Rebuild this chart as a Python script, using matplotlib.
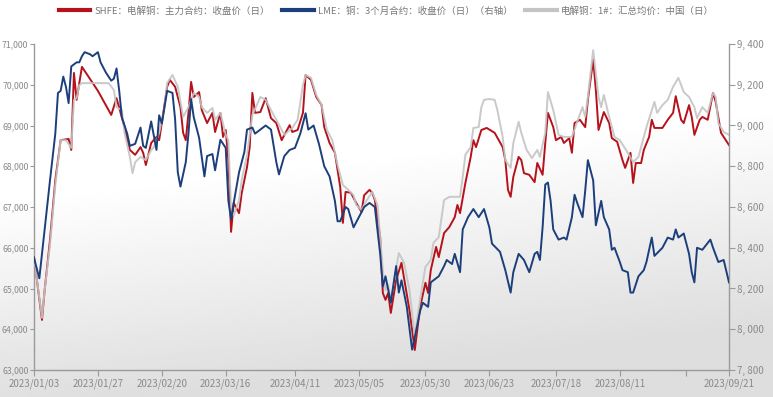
import numpy as np
import pandas as pd
import matplotlib
matplotlib.use("Agg")
import matplotlib.pyplot as plt
from matplotlib.ticker import FuncFormatter

plt.rcParams['font.family'] = ['Noto Sans CJK SC', 'DejaVu Sans']

# SHFE 电解铜 主力合约 收盘价 (元/吨, 左轴)
shfe_dates = ["01-03","01-06","01-07","01-09","01-11","01-13","01-16","01-17","01-18","01-19","01-21",
    "01-27","02-01","02-03","02-06","02-08","02-10","02-12","02-13","02-14","02-16","02-18","02-19",
    "02-20","02-22","02-23","02-25","02-27","02-28","03-01","03-02","03-03","03-04","03-06","03-07",
    "03-09","03-11","03-12","03-14","03-15","03-16","03-17","03-18","03-19","03-21","03-22","03-24",
    "03-25","03-26","03-27","03-29","03-31","04-02","04-04","04-06","04-09","04-10","04-12","04-14",
    "04-15","04-17","04-19","04-21","04-22","04-24","04-26","04-28","04-29","04-30","05-02","05-04",
    "05-06","05-07","05-09","05-10","05-11","05-13","05-14","05-15","05-16","05-17","05-19","05-21",
    "05-24","05-26","05-28","05-30","05-31","06-01","06-03","06-04","06-06","06-08","06-10","06-11",
    "06-12","06-14","06-15","06-16","06-17","06-18","06-20","06-22","06-25","06-28","06-29","06-30",
    "07-01","07-02","07-04","07-05","07-06","07-08","07-10","07-11","07-13","07-14","07-15","07-17",
    "07-18","07-20","07-21","07-23","07-24","07-25","07-27","07-29","07-30","08-01","08-02","08-03",
    "08-05","08-07","08-08","08-10","08-12","08-13","08-15","08-16","08-17","08-19","08-20","08-22",
    "08-23","08-24","08-27","08-29","08-31","09-01","09-03","09-04","09-06","09-07","09-08","09-10",
    "09-11","09-13","09-15","09-16","09-18","09-19","09-21"]
shfe_vals = [65770,64230,64960,66190,67660,68640,68670,68400,70290,69630,70440,
    69850,69260,69670,68960,68400,68280,68470,68330,68030,68570,68720,68640,
    69060,69950,70120,69950,69450,68820,68640,69310,70070,69700,69820,69380,
    69060,69310,68840,69310,68720,68890,68150,66390,67100,66850,67340,67980,
    68470,69800,69310,69330,69670,69180,69060,68640,69010,68840,68890,69310,
    70240,70120,69700,69500,68960,68570,68330,67490,66610,67370,67350,67100,
    66880,67290,67420,67350,67170,66260,64890,64720,64890,64400,65210,65630,
    64470,63490,64550,65140,64890,65450,66020,65770,66360,66510,66750,67050,
    66850,67590,67910,68230,68640,68470,68890,68940,68820,68470,68150,67420,
    67250,67740,68230,68150,67830,67790,67610,68080,67790,68570,69310,68960,
    68640,68720,68570,68690,68330,69060,69140,68960,69630,70610,69870,68890,
    69330,69060,68690,68600,68150,67960,68330,67590,68080,68080,68400,68720,
    69140,68940,68940,69140,69310,69720,69140,69060,69500,69210,68770,69140,
    69210,69140,69800,69580,68820,68720,68520]

# 电解铜 1# 汇总均价 中国 (元/吨, 左轴)
spot_dates = ["01-03","01-06","01-07","01-09","01-11","01-13","01-15","01-17","01-18","01-19","01-20",
    "01-21","01-25","01-31","02-02","02-03","02-05","02-06","02-08","02-09","02-10","02-12","02-14",
    "02-16","02-17","02-19","02-21","02-22","02-24","02-26","02-28","03-02","03-04","03-06","03-07",
    "03-09","03-11","03-12","03-14","03-16","03-17","03-18","03-19","03-21","03-22","03-24","03-26",
    "03-29","03-31","04-02","04-04","04-07","04-10","04-12","04-14","04-15","04-17","04-19","04-21",
    "04-23","04-25","04-27","04-29","05-01","05-03","05-04","05-06","05-08","05-10","05-12","05-14",
    "05-15","05-16","05-17","05-20","05-22","05-24","05-26","05-27","05-29","05-30","06-01","06-02",
    "06-04","06-06","06-08","06-10","06-12","06-13","06-14","06-16","06-17","06-19","06-20","06-21",
    "06-23","06-25","06-26","06-28","06-29","07-01","07-02","07-04","07-05","07-07","07-09","07-11",
    "07-12","07-14","07-15","07-17","07-19","07-21","07-24","07-26","07-28","07-29","07-30","08-01",
    "08-03","08-04","08-05","08-07","08-09","08-11","08-14","08-16","08-18","08-20","08-21","08-24",
    "08-25","08-27","08-29","08-31","09-02","09-04","09-06","09-08","09-09","09-11","09-13","09-15",
    "09-16","09-17","09-19","09-21"]
spot_vals = [65750,64280,64960,66070,67540,68640,68640,68450,69630,69670,69990,
    70040,70040,70040,69870,69450,69380,68820,68230,67830,68100,68230,68150,
    68400,68470,68820,69450,70040,70240,69950,69210,69450,69800,69700,69450,
    69310,69430,69140,69310,68770,68640,66930,66800,67170,67660,68280,69260,
    69700,69630,69380,69140,68770,68940,69140,69990,70240,70170,69750,69500,
    68890,68640,68030,67540,67420,67290,67050,66930,67170,67370,67050,65450,
    64960,65090,64720,65870,65630,64960,63810,64300,65140,65530,65700,66120,
    66260,67170,67250,67250,67250,67740,68280,68470,68940,68960,69450,69630,
    69650,69630,69380,68720,68150,67960,68570,69090,68820,68400,68200,68400,
    68230,68820,69820,69380,68770,68720,68720,69090,69450,69210,69700,70850,
    69700,69450,69750,69210,68720,68640,68330,68100,68230,68720,68960,69580,
    69310,69500,69630,69950,70170,69820,69700,69450,69180,69450,69310,69800,
    69700,69060,68840,68770]

# LME 铜 3个月合约 收盘价 (美元/吨, 右轴)
lme_dates = ["01-03","01-05","01-07","01-09","01-11","01-12","01-13","01-14","01-15","01-16","01-17",
    "01-19","01-20","01-21","01-22","01-24","01-25","01-27","01-28","01-30","02-01","02-02","02-03",
    "02-04","02-05","02-07","02-08","02-10","02-12","02-13","02-14","02-16","02-18","02-19","02-20",
    "02-21","02-22","02-24","02-25","02-26","02-27","03-01","03-02","03-03","03-04","03-06","03-08",
    "03-09","03-11","03-12","03-14","03-16","03-17","03-18","03-19","03-21","03-23","03-24","03-26",
    "03-27","03-29","03-31","04-02","04-04","04-05","04-07","04-09","04-11","04-13","04-15","04-16",
    "04-18","04-20","04-22","04-24","04-26","04-27","04-28","04-30","05-01","05-03","05-05","05-07",
    "05-09","05-11","05-13","05-14","05-15","05-17","05-19","05-20","05-21","05-23","05-25","05-26",
    "05-28","05-29","05-31","06-01","06-04","06-06","06-07","06-09","06-10","06-12","06-13","06-15",
    "06-17","06-19","06-21","06-23","06-24","06-27","06-29","07-01","07-02","07-04","07-06","07-08",
    "07-10","07-11","07-12","07-13","07-14","07-15","07-16","07-17","07-19","07-21","07-22","07-24",
    "07-25","07-26","07-28","07-29","07-30","08-01","08-02","08-04","08-05","08-07","08-08","08-09",
    "08-11","08-12","08-14","08-15","08-16","08-18","08-20","08-21","08-23","08-24","08-27","08-29",
    "08-31","09-01","09-02","09-04","09-06","09-07","09-08","09-09","09-11","09-14","09-15","09-17",
    "09-19","09-21"]
lme_vals = [8350,8250,8490,8730,8960,9160,9170,9240,9190,9110,9290,
    9310,9310,9340,9360,9350,9340,9360,9310,9260,9220,9230,9280,
    9170,9040,8960,8900,8910,8990,8900,8890,9020,8880,9050,9010,
    9090,9170,9160,9030,8770,8700,8820,8960,9130,9040,8940,8750,
    8850,8860,8780,8930,8890,8630,8540,8620,8770,8870,8980,8990,
    8960,8980,9000,8980,8820,8760,8850,8880,8890,8960,9060,8980,
    9000,8910,8800,8750,8630,8530,8530,8600,8590,8500,8550,8600,
    8620,8600,8370,8210,8260,8130,8310,8180,8240,8110,7900,7960,
    8090,8130,8110,8230,8260,8310,8340,8320,8370,8280,8490,8550,
    8590,8550,8590,8500,8420,8380,8290,8180,8280,8370,8340,8280,
    8370,8380,8340,8500,8710,8720,8630,8490,8440,8450,8440,8550,
    8660,8620,8550,8680,8830,8730,8510,8630,8550,8490,8390,8400,
    8330,8290,8280,8180,8180,8260,8290,8330,8450,8360,8400,8450,
    8440,8490,8450,8470,8370,8280,8230,8400,8390,8440,8400,8330,
    8340,8230]

shfe_x = pd.to_datetime(["2023-" + d for d in shfe_dates])
spot_x = pd.to_datetime(["2023-" + d for d in spot_dates])
lme_x = pd.to_datetime(["2023-" + d for d in lme_dates])

tick_dates = ["2023-01-03", "2023-01-27", "2023-02-20", "2023-03-16", "2023-04-11", "2023-05-05",
              "2023-05-30", "2023-06-23", "2023-07-18", "2023-08-11", "2023-09-05", "2023-09-21"]
tick_labels = ["2023/01/03", "2023/01/27", "2023/02/20", "2023/03/16", "2023/04/11", "2023/05/05",
               "2023/05/30", "2023/06/23", "2023/07/18", "2023/08/11", "", "2023/09/21"]

W, H = 773, 397
fig = plt.figure(figsize=(W / 100, H / 100), dpi=100)

# background: white at top fading to light grey towards the bottom
bg = fig.add_axes([0, 0, 1, 1], zorder=-10)
yy, xx = np.mgrid[0:1:200j, 0:1:400j]
shade = np.clip((yy * 1.1 + xx * 0.25 - 0.55) / 0.6, 0, 1)
bg.imshow(1 - 0.13 * shade, cmap="gray", vmin=0, vmax=1, aspect="auto",
          extent=[0, 1, 0, 1], origin="upper")
bg.axis("off")

left_px = 34
ax = fig.add_axes([left_px / W, 1 - 370 / H, (729 - left_px) / W, (370 - 44) / H])
ax.patch.set_alpha(0)
ax2 = ax.twinx()

red = "#b5121b"
blue = "#1c3f7c"
grey = "#c4c4c4"

l1, = ax.plot(shfe_x, shfe_vals, color=red, lw=1.4, zorder=3)
l3, = ax.plot(spot_x, spot_vals, color=grey, lw=1.4, alpha=0.9, zorder=4)
l2, = ax2.plot(lme_x, lme_vals, color=blue, lw=1.4, zorder=3)

ax.set_ylim(63000, 71000)
ax.set_yticks(np.arange(63000, 71001, 1000))
ax2.set_ylim(7800, 9400)
ax2.set_yticks(np.arange(7800, 9401, 200))
ax.yaxis.set_major_formatter(FuncFormatter(lambda v, p: f"{v:,.0f}"))
ax2.yaxis.set_major_formatter(FuncFormatter(lambda v, p: f"{v:,.0f}".replace(",", ", ")))

ax.set_xlim(pd.Timestamp("2023-01-03"), pd.Timestamp("2023-09-21"))
ax.set_xticks(pd.to_datetime(tick_dates))
ax.set_xticklabels(tick_labels)

axis_col = "#9a9a9a"
text_col = "#8a8a8a"
for a in (ax, ax2):
    a.spines["top"].set_visible(False)
    for s in ["left", "right", "bottom"]:
        a.spines[s].set_color(axis_col)
        a.spines[s].set_linewidth(1.0)
    a.tick_params(colors=axis_col, labelcolor=text_col, labelsize=7, length=4, width=0.8, pad=2)
ax.tick_params(axis="y", labelsize=6.3, length=3, pad=1)
ax.spines["right"].set_visible(False)
ax2.spines["left"].set_visible(False)
ax2.spines["bottom"].set_visible(False)

fig.legend([l1, l2, l3],
           ["SHFE：电解铜：主力合约：收盘价（日）", "LME：铜：3个月合约：收盘价（日）（右轴）",
            "电解铜：1#：汇总均价：中国（日）"],
           loc="center", bbox_to_anchor=(0.5, 1 - 11 / H), ncol=3, frameon=False,
           fontsize=6.8, labelcolor="#777777", handlelength=3.3, columnspacing=1.3,
           handletextpad=0.5)
for h in fig.legends[0].legend_handles:
    h.set_linewidth(3)
    h.set_alpha(1)

fig.savefig("out.png", dpi=100)
